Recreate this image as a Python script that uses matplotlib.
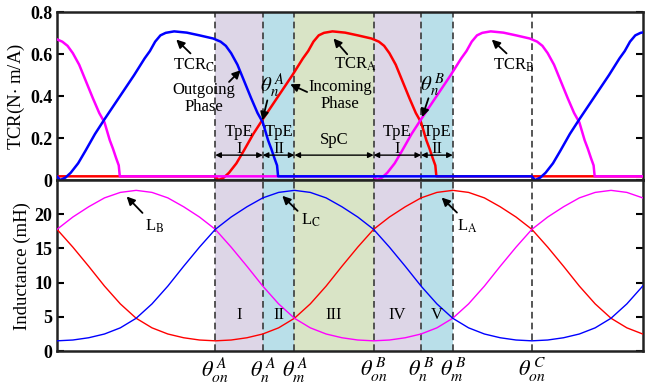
import numpy as np
import matplotlib
matplotlib.use('Agg')
import matplotlib.pyplot as plt

plt.rcParams['font.family'] = 'serif'
plt.rcParams['font.serif'] = ['Liberation Serif', 'DejaVu Serif']
plt.rcParams['mathtext.fontset'] = 'stix'

# TCR pulse of one phase, angle (deg) measured from its turn-on angle
tcr_off = [0.0, 0.3, 0.8, 1.3, 2.0, 2.7, 3.6, 4.5, 5.7, 6.5, 7.3, 8.3, 8.8, 9.3,
           9.8, 10.3, 11.1, 12.3, 13.5, 14.8, 15.5, 16.0, 16.5, 17.1, 17.75,
           18.4, 19.0, 19.5, 20.0, 20.3, 20.6, 20.85, 20.95]
tcr_val = [0.018, 0.0, 0.012, 0.035, 0.08, 0.14, 0.22, 0.29, 0.38, 0.44, 0.50,
           0.58, 0.615, 0.66, 0.69, 0.702, 0.709, 0.703, 0.69, 0.675, 0.66, 0.64,
           0.605, 0.55, 0.47, 0.39, 0.32, 0.275, 0.19, 0.15, 0.105, 0.07, 0.018]

# inductance of one phase over one rotor period (deg), from unaligned position
ind_ang = [0, 1.5, 3, 4.5, 6, 7.5, 9, 10.5, 12, 13.5, 15, 16.5, 18, 19.5, 21, 22.5,
           24, 25.5, 27, 28.5, 30, 31.5, 33, 34.5, 36, 37.5, 39, 40.5, 42, 43.5, 45]
ind_val = [1.5, 1.62, 1.95, 2.5, 3.4, 4.8, 6.9, 9.5, 12.4, 15.2, 17.8, 19.6, 21.1,
           22.4, 23.2, 23.5, 23.2, 22.4, 21.1, 19.6, 17.8, 15.2, 12.4, 9.5, 6.9,
           4.8, 3.4, 2.5, 1.95, 1.62, 1.5]

period = 45
phases = ['A', 'B', 'C']
shift = {'A': 15, 'B': -15, 'C': 0}
colors = {'A': '#ff0000', 'B': '#ff00ff', 'C': '#0000ff'}

# switching angles
th_pos = [15, 19.5, 22.5, 30, 34.5, 37.5, 45]
th_lbl = [r'$\theta_{on}^{\,A}$', r'$\theta_{n}^{\,A}$', r'$\theta_{m}^{\,A}$',
          r'$\theta_{on}^{\,B}$', r'$\theta_{n}^{\,B}$', r'$\theta_{m}^{\,B}$',
          r'$\theta_{on}^{\,C}$']
bands = [(15, 19.5, '#ddd6e7'), (19.5, 22.5, '#b9dfe9'), (22.5, 30, '#d9e4c6'),
         (30, 34.5, '#ddd6e7'), (34.5, 37.5, '#b9dfe9')]
region_lbl = ['I', 'II', 'III', 'IV', 'V']
top_lbl = ['TpE\nI', 'TpE\nII', 'SpC', 'TpE\nI', 'TpE\nII']


def tile(ang, val, s):
    xs, ys = [], []
    for k in range(-1, 3):
        xs.append(np.array(ang) + s + period * k)
        ys.append(np.array(val))
    return np.concatenate(xs), np.concatenate(ys)


def pointer(ax, txt, tip, start, pos, size=12):
    # arrow and its label are placed separately, like in the original figure
    ax.annotate('', xy=tip, xytext=start,
                arrowprops=dict(arrowstyle='-|>', color='k', lw=1.3,
                                mutation_scale=12, shrinkA=0, shrinkB=0))
    ax.text(pos[0], pos[1], txt, ha='center', va='center', fontsize=size,
            linespacing=1.1)


fig = plt.figure(figsize=(6.45, 3.84), dpi=100)
ax1 = fig.add_axes([0.0884, 0.531, 0.908, 0.437])
ax2 = fig.add_axes([0.0884, 0.0857, 0.908, 0.4453])

for ax in (ax1, ax2):
    for a, b, c in bands:
        ax.axvspan(a, b, color=c, lw=0, zorder=0)
    for p in th_pos:
        ax.axvline(p, color='#3a3a3a', lw=1.2, ls=(0, (4, 2.5)), zorder=1)
    ax.set_xlim(0, 55.5)
    for sp in ax.spines.values():
        sp.set_linewidth(1.8)
        sp.set_color('#222222')
    ax.tick_params(axis='y', direction='in', left=True, right=True, length=5,
                   width=1.5, labelsize=13)

# top: TCR
for ph in phases:
    x, y = tile(tcr_off, tcr_val, shift[ph])
    ax1.plot(x, y, color=colors[ph], lw=1.8, zorder=3)
ax1.set_ylim(0, 0.8)
ax1.set_yticks([0, 0.2, 0.4, 0.6, 0.8])
ax1.set_yticklabels(['0', '0.2', '0.4', '0.6', '0.8'], fontweight='bold')
ax1.set_xticks([])
ax1.set_ylabel('TCR(N$\\cdot$ m/A)', fontsize=13.5, labelpad=2)

for (a, b, c), s in zip(bands, top_lbl):
    ax1.text((a + b) / 2, 0.19, s, ha='center', va='center', fontsize=12,
             linespacing=1.05, zorder=4)
    ax1.annotate('', xy=(a, 0.119), xytext=(b, 0.119),
                 arrowprops=dict(arrowstyle='<|-|>', color='k', lw=1,
                                 mutation_scale=8, shrinkA=0, shrinkB=0), zorder=4)

pointer(ax1, r'TCR$_\mathrm{C}$', (11.3, 0.67), (12.65, 0.604), (13.0, 0.545))
pointer(ax1, 'Outgoing\nPhase', (17.4, 0.524), (16.3, 0.468), (13.9, 0.39))
pointer(ax1, r'$\theta_{n}^{\,A}$', (19.46, 0.285), (19.93, 0.38), (20.4, 0.45), 15)
pointer(ax1, 'Incoming\nPhase', (22.1, 0.457), (23.7, 0.42), (26.85, 0.404))
pointer(ax1, r'TCR$_\mathrm{A}$', (26.2, 0.675), (27.5, 0.60), (28.3, 0.55))
pointer(ax1, r'$\theta_{n}^{\,B}$', (34.6, 0.30), (35.2, 0.39), (35.6, 0.45), 15)
pointer(ax1, r'TCR$_\mathrm{B}$', (41.2, 0.67), (42.6, 0.604), (43.3, 0.545))

# bottom: inductance
for ph in phases:
    x, y = tile(ind_ang, ind_val, shift[ph])
    ax2.plot(x, y, color=colors[ph], lw=1.0, zorder=3)
ax2.set_ylim(0, 25)
ax2.set_yticks([0, 5, 10, 15, 20])
ax2.set_yticklabels(['0', '5', '10', '15', '20'], fontweight='bold')
ax2.set_xticks(th_pos)
ax2.set_xticklabels(th_lbl, fontsize=16)
ax2.tick_params(axis='x', length=0, pad=3)
ax2.set_ylabel('Inductance (mH)', fontsize=13.5, labelpad=2)

for (a, b, c), s in zip(bands, region_lbl):
    ax2.text((a + b) / 2, 5.3, s, ha='center', va='center', fontsize=12, zorder=4)

pointer(ax2, r'L$_\mathrm{B}$', (6.6, 22.6), (8.1, 20.2), (9.3, 18.3))
pointer(ax2, r'L$_\mathrm{C}$', (21.35, 22.7), (22.8, 20.5), (24.1, 19.1))
pointer(ax2, r'L$_\mathrm{A}$', (36.45, 22.45), (37.9, 20.25), (38.9, 18.3))

fig.savefig('out.png', dpi=100)
